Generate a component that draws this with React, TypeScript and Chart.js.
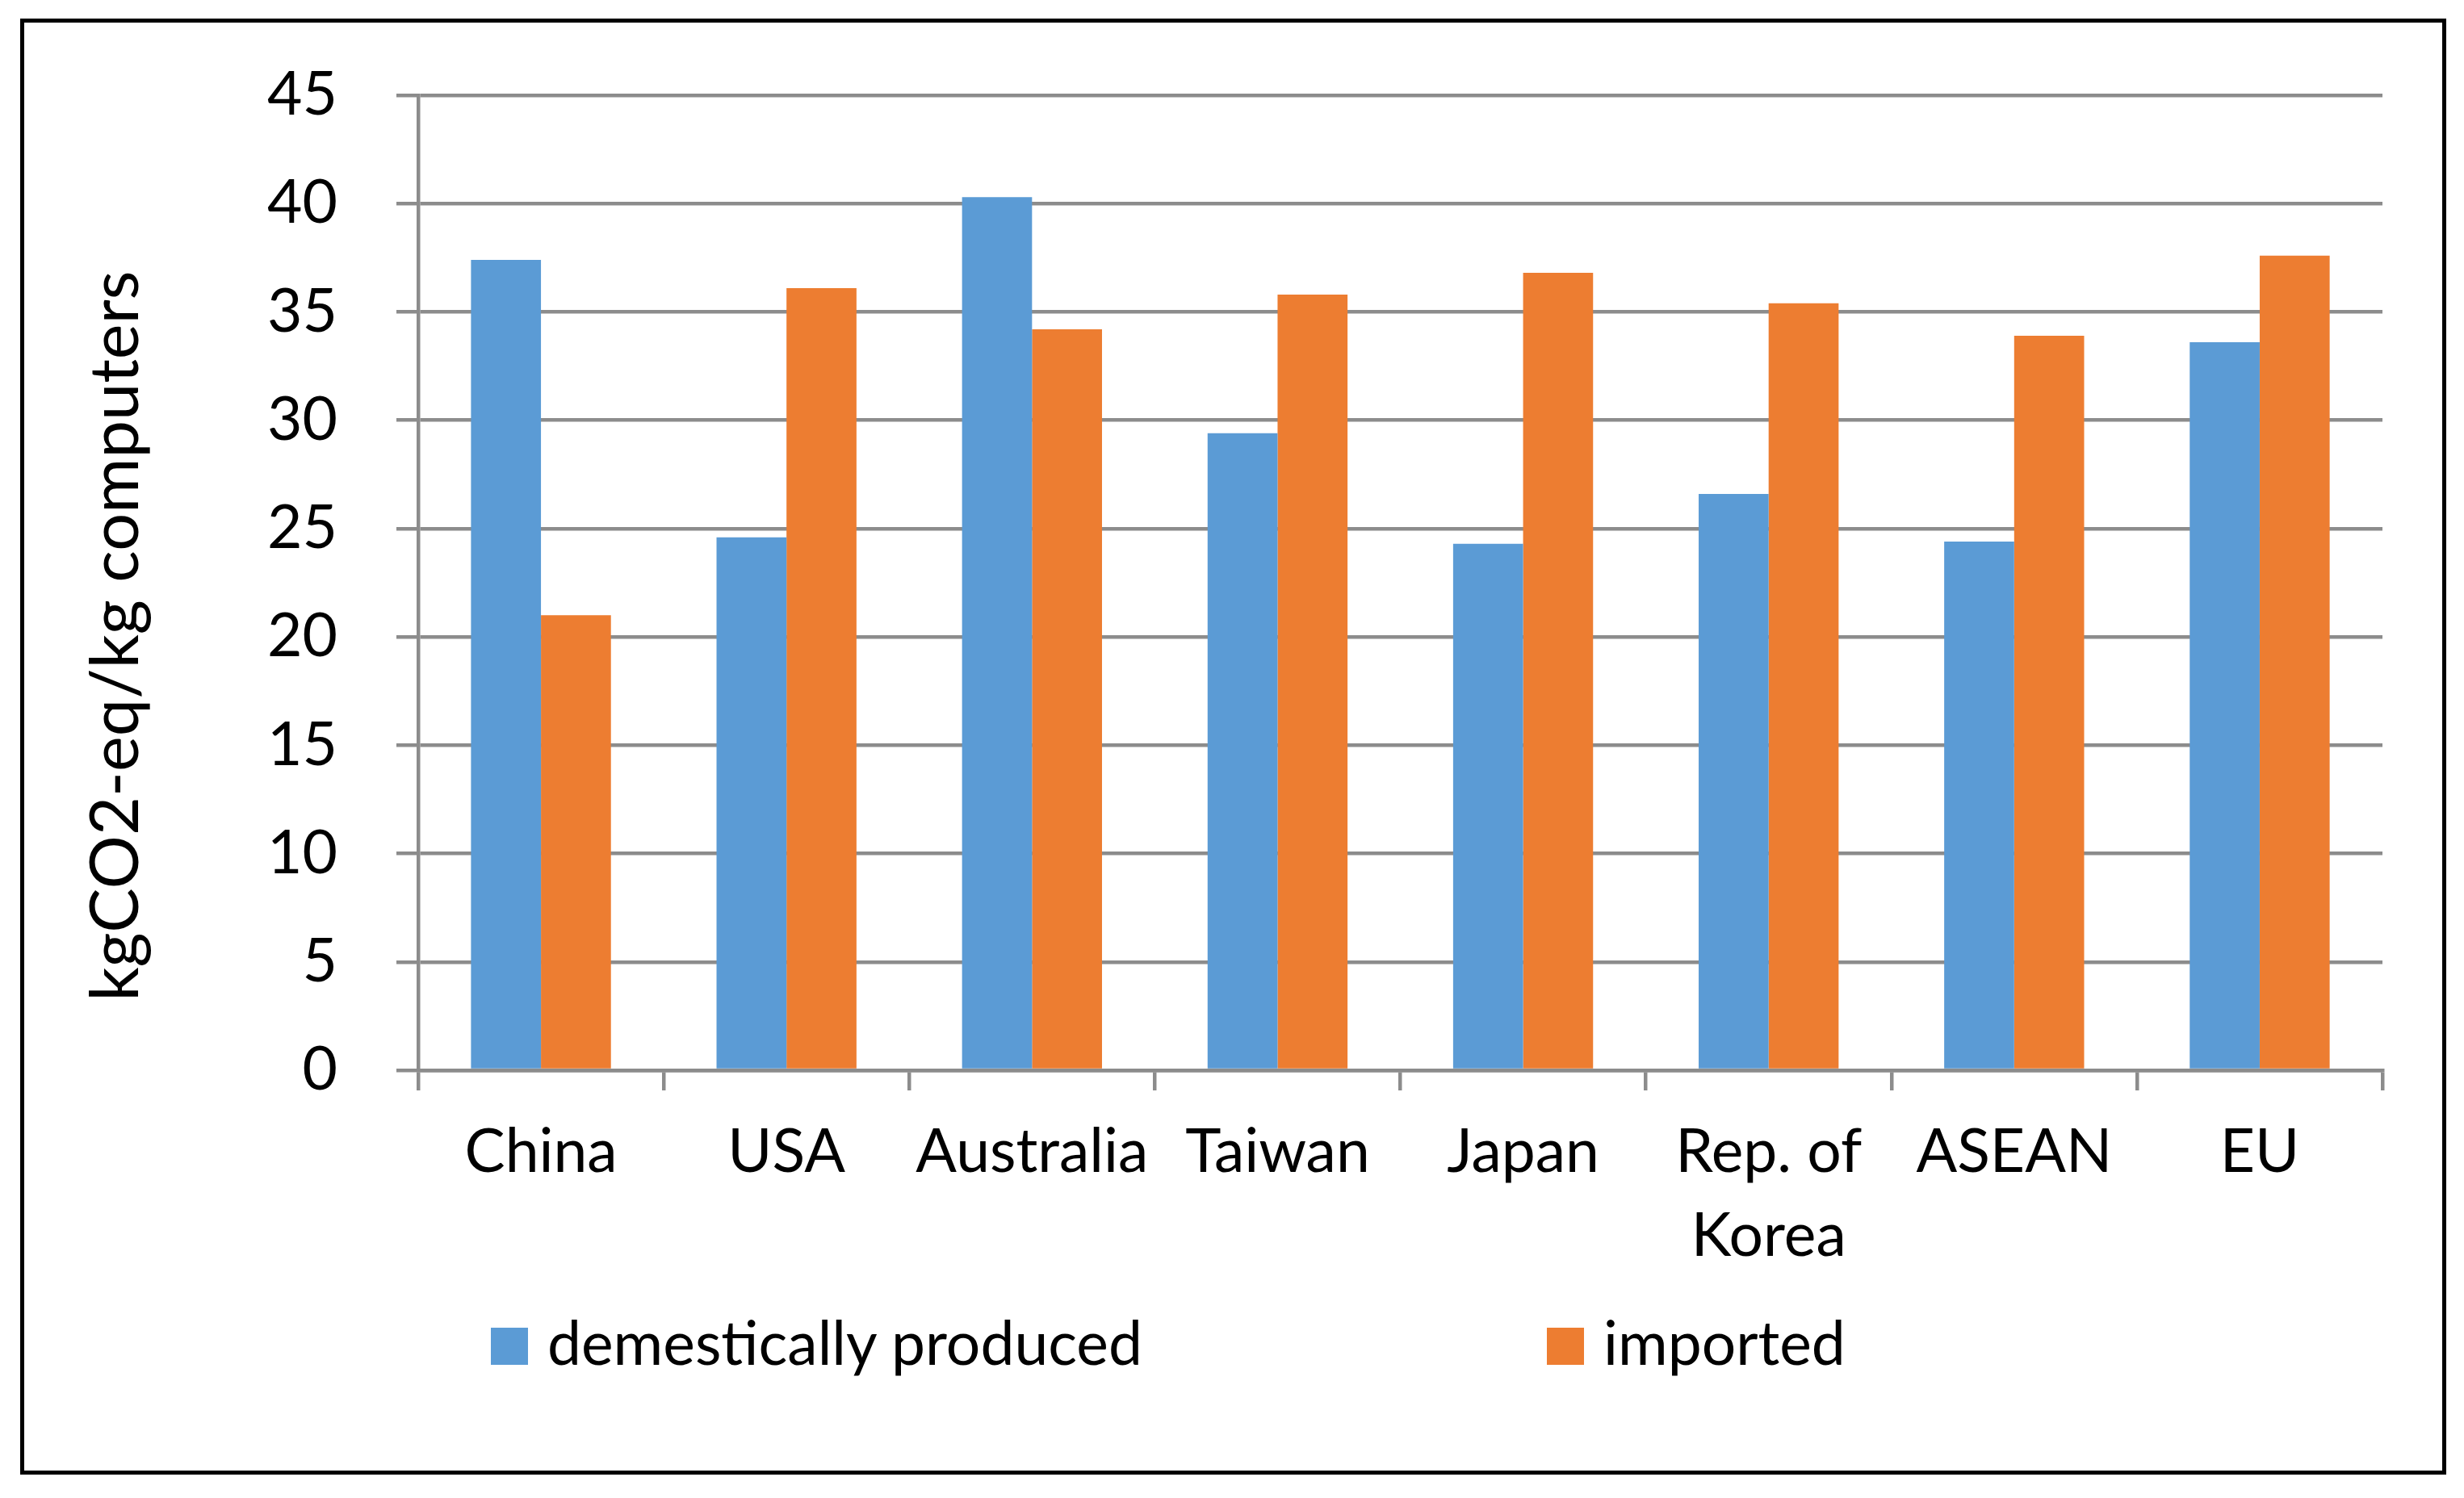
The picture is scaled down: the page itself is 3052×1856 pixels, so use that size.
import React, { useEffect, useRef, useState } from 'react';
import { Chart, registerables } from 'chart.js';

Chart.register(...registerables);

// ---- data ----
const categories: (string | string[])[] = [
  'China',
  'USA',
  'Australia',
  'Taiwan',
  'Japan',
  ['Rep. of', 'Korea'],
  'ASEAN',
  'EU',
];
const domesticValues = [37.4, 24.6, 40.3, 29.4, 24.3, 26.6, 24.4, 33.6];
const importedValues = [21.0, 36.1, 34.2, 35.8, 36.8, 35.4, 33.9, 37.6];
const seriesNames = ['demestically produced', 'imported'];
const seriesColors = ['#5B9BD5', '#ED7D31'];
const yMin = 0;
const yMax = 45;
const yStep = 5;
const yTitle = 'kgCO2-eq/kg computers';

// ---- style constants ----
const W = 3052;
const H = 1856;
const GRID = '#8c8c8c';
const FONT = 'Lato';
const TICK_SIZE = 75;
const TITLE_SIZE = 83;
const TITLE_PAD = 94;
const TITLE_BOX = TITLE_SIZE * 1.2 + TITLE_PAD;
const PLOT_LEFT = 518;
const PLOT_TOP = 118;
const X_AXIS_H = 250;

type LegendEntry = { text: string; color: string };

export default function App() {
  const canvasRef = useRef<HTMLCanvasElement | null>(null);
  const [legend, setLegend] = useState<LegendEntry[]>([]);

  useEffect(() => {
    let chart: Chart | null = null;
    let cancelled = false;

    const build = () => {
      if (cancelled || !canvasRef.current) return;
      chart = new Chart(canvasRef.current, {
        type: 'bar',
        data: {
          labels: categories as any,
          datasets: [
            {
              label: seriesNames[0],
              data: domesticValues,
              backgroundColor: seriesColors[0],
              borderWidth: 0,
              categoryPercentage: 0.57,
              barPercentage: 1.0,
            },
            {
              label: seriesNames[1],
              data: importedValues,
              backgroundColor: seriesColors[1],
              borderWidth: 0,
              categoryPercentage: 0.57,
              barPercentage: 1.0,
            },
          ],
        },
        options: {
          responsive: false,
          animation: false,
          devicePixelRatio: 1,
          layout: { padding: { top: 0, right: 101, bottom: 280, left: 0 } },
          plugins: {
            legend: { display: false },
            tooltip: { enabled: false },
            title: {
              display: true,
              position: 'left',
              text: yTitle,
              color: '#000',
              font: { family: FONT, size: TITLE_SIZE, weight: 'normal', lineHeight: 1.2 },
              padding: { top: TITLE_PAD, bottom: 0 },
            },
          },
          scales: {
            x: {
              type: 'category',
              grid: {
                display: true,
                drawOnChartArea: false,
                drawTicks: true,
                tickLength: 25,
                offset: true,
                color: GRID,
                lineWidth: 4.5,
              },
              border: { display: true, color: GRID, width: 4.5 },
              ticks: {
                color: '#000',
                font: { family: FONT, size: TICK_SIZE, lineHeight: 1.3867 },
                padding: 25,
                autoSkip: false,
                maxRotation: 0,
                minRotation: 0,
              },
              afterFit: (s: any) => {
                s.height = X_AXIS_H;
              },
            },
            y: {
              min: yMin,
              max: yMax,
              ticks: {
                stepSize: yStep,
                color: '#000',
                font: { family: FONT, size: TICK_SIZE },
                padding: 73,
              },
              grid: {
                color: GRID,
                lineWidth: 4.5,
                drawTicks: true,
                tickLength: 27,
              },
              border: { display: true, color: GRID, width: 4.5 },
              afterFit: (s: any) => {
                s.width = PLOT_LEFT - TITLE_BOX;
                s.paddingTop = PLOT_TOP;
              },
            },
          },
        },
      });
      const items = (Chart.defaults.plugins.legend.labels as any).generateLabels(chart);
      setLegend(items.map((it: any) => ({ text: it.text, color: it.fillStyle as string })));
    };

    const fonts = (document as any).fonts;
    if (fonts && fonts.load) {
      Promise.all([
        fonts.load(`${TICK_SIZE}px ${FONT}`),
        fonts.load(`${TITLE_SIZE}px ${FONT}`),
      ]).then(build, build);
    } else {
      build();
    }

    return () => {
      cancelled = true;
      if (chart) chart.destroy();
    };
  }, []);

  const legendLefts = [608, 1916];

  return (
    <div style={{ position: 'absolute', left: 0, top: 0, width: W, height: H, background: '#fff' }}>
      <div
        style={{
          position: 'absolute',
          left: 25,
          top: 23,
          width: 3005,
          height: 1804,
          border: '5px solid #000',
          boxSizing: 'border-box',
        }}
      />
      <canvas
        ref={canvasRef}
        width={W}
        height={H}
        style={{ position: 'absolute', left: 0, top: 0, width: W, height: H }}
      />
      {legend.map((item, i) => (
        <div
          key={i}
          style={{
            position: 'absolute',
            left: legendLefts[i],
            top: 1617,
            display: 'flex',
            alignItems: 'flex-start',
            fontFamily: FONT,
            fontSize: TICK_SIZE,
            lineHeight: '90px',
            color: '#000',
            whiteSpace: 'nowrap',
          }}
        >
          <span
            style={{
              display: 'inline-block',
              width: 46,
              height: 46,
              marginTop: 28,
              marginRight: 24,
              background: item.color,
            }}
          />
          <span>{item.text}</span>
        </div>
      ))}
    </div>
  );
}
